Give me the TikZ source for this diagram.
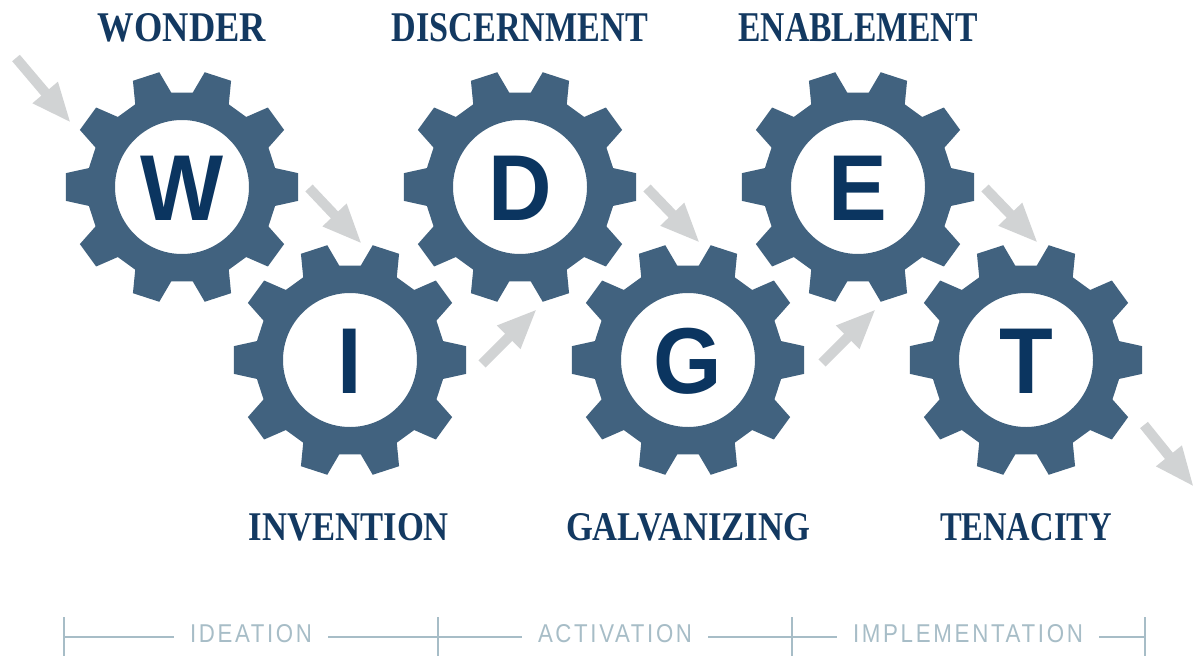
\documentclass[tikz,border=0pt]{standalone}
\usepackage{fontspec}
\usepackage{graphicx}
\usetikzlibrary{arrows.meta,calc}
\newfontfamily\labfont{Liberation Serif}
\newfontfamily\letfont{Liberation Sans}
\newfontfamily\tlfont[LetterSpace=12]{Liberation Sans}
\definecolor{gearcol}{HTML}{41627F}
\definecolor{lettercol}{HTML}{0B3560}
\definecolor{labelcol}{HTML}{133961}
\definecolor{linecol}{HTML}{A7BDC7}
\definecolor{arrowcol}{HTML}{D1D3D4}
\tikzset{
  gearfill/.style={fill=gearcol, even odd rule},
  flowarrow/.style={draw=arrowcol, line width=10pt, -{Triangle[width=30pt,length=40pt]}},
  lbl/.style={text=labelcol, font=\labfont\bfseries, anchor=base, inner sep=0pt},
  gearletter/.style={text=lettercol, font=\letfont\bfseries\fontsize{93.6}{100}\selectfont, anchor=base, inner sep=0pt},
  tltext/.style={text=linecol, font=\tlfont\fontsize{25}{30}\selectfont, anchor=base, inner xsep=16pt, inner ysep=0pt},
  tlline/.style={draw=linecol, line width=2pt},
}
\newcommand\drawgear[3]{%
  \coordinate (#1) at (#2);
  \begin{scope}[shift={(#1)}]
    \fill[gearfill] (-11.5:95)
      \foreach \a in {0,36,...,324}{ -- (\a-11.5:95) -- (\a-6.8:117) -- (\a+6.8:117) -- (\a+11.5:95) }
      -- cycle (0,0) circle[radius=67];
  \end{scope}
  \node[gearletter] (l#1) at ($(#1)+(0,33.5)$) {\scalebox{0.94}[1]{#3}};
}
\begin{document}
\begin{tikzpicture}[x=1pt,y=-1pt]
\useasboundingbox (0,0) rectangle (1194,656);
\fill[white] (0,0) rectangle (1194,656);

% gears
\drawgear{W}{182,187}{W}
\drawgear{I}{350,360}{I}
\drawgear{D}{520,187}{D}
\drawgear{G}{688,360}{G}
\drawgear{E}{858,187}{E}
\drawgear{T}{1026,360}{T}

% labels
\node[lbl] (nW) at (182,41) {\resizebox{168pt}{28pt}{WONDER}};
\node[lbl] (nD) at (520,41) {\resizebox{256pt}{28pt}{DISCERNMENT}};
\node[lbl] (nE) at (858,41) {\resizebox{239pt}{28pt}{ENABLEMENT}};
\node[lbl] (nI) at (349,540) {\resizebox{200pt}{27pt}{INVENTION}};
\node[lbl] (nG) at (688,540) {\resizebox{244pt}{27pt}{GALVANIZING}};
\node[lbl] (nT) at (1026,540) {\resizebox{172pt}{27pt}{TENACITY}};

% arrows
\coordinate (a1s) at (16,58);   \coordinate (a1e) at (71,123);
\coordinate (a2s) at (309,188); \coordinate (a2e) at (362,244);
\coordinate (a3s) at (482,364); \coordinate (a3e) at (537,309);
\coordinate (a4s) at (647,188); \coordinate (a4e) at (700,243);
\coordinate (a5s) at (822,363); \coordinate (a5e) at (876,309);
\coordinate (a6s) at (985,188); \coordinate (a6e) at (1038,243);
\coordinate (a7s) at (1144,425); \coordinate (a7e) at (1194,487);
\foreach \i in {1,...,7}{ \draw[flowarrow] (a\i s) -- (a\i e); }

% timeline
\coordinate (t1) at (64,637);
\coordinate (t2) at (438,637);
\coordinate (t3) at (792,637);
\coordinate (t4) at (1145,637);
\node[tltext] (p1) at (251,642) {\resizebox{122pt}{18pt}{IDEATION}};
\node[tltext] (p2) at (615,642) {\resizebox{154pt}{18pt}{ACTIVATION}};
\node[tltext] (p3) at (968,642) {\resizebox{230pt}{18pt}{IMPLEMENTATION}};
\draw[tlline] (t1) -- (p1.west |- t1);
\draw[tlline] (p1.east |- t1) -- (t2) -- (p2.west |- t2);
\draw[tlline] (p2.east |- t2) -- (t3) -- (p3.west |- t3);
\draw[tlline] (p3.east |- t3) -- (t4);
\foreach \t in {t1,t2,t3,t4}{ \draw[tlline] ($(\t)+(0,-20)$) -- ($(\t)+(0,19)$); }
\end{tikzpicture}
\end{document}
